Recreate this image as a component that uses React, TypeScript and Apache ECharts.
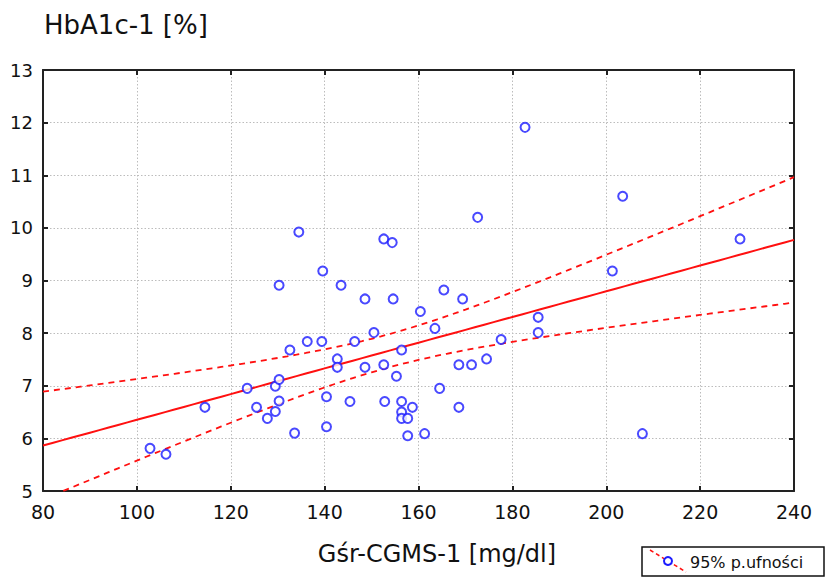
import React, { useEffect, useRef } from "react";
import * as echarts from "echarts";

// Gśr-CGMS-1 [mg/dl] (x) and HbA1c-1 [%] (y)
const cgms: number[] = [
  102.8, 106.2, 114.5, 123.5, 125.5, 127.8, 129.5, 129.5, 130.3, 130.3,
  130.3, 132.6, 133.6, 134.5, 136.3, 139.4, 139.6, 140.4, 140.4, 142.7,
  142.7, 143.5, 145.4, 146.4, 148.6, 148.6, 150.5, 152.6, 152.6, 152.8,
  154.4, 154.6, 155.3, 156.4, 156.4, 156.4, 156.4, 157.7, 157.7, 158.7,
  160.4, 161.3, 163.5, 164.5, 165.4, 168.6, 168.6, 169.4, 171.3, 172.6,
  174.5, 177.6, 182.7, 185.5, 185.5, 201.3, 203.5, 207.7, 228.5,
];
const hba1c: number[] = [
  5.81, 5.7, 6.59, 6.95, 6.59, 6.38, 6.51, 6.99, 6.71, 7.12,
  8.91, 7.68, 6.1, 9.92, 7.84, 7.84, 9.18, 6.79, 6.22, 7.51,
  7.35, 8.91, 6.7, 7.84, 8.65, 7.35, 8.01, 9.79, 7.4, 6.7,
  9.72, 8.65, 7.18, 7.68, 6.7, 6.5, 6.38, 6.38, 6.05, 6.59,
  8.41, 6.09, 8.09, 6.95, 8.82, 7.4, 6.59, 8.65, 7.4, 10.2,
  7.51, 7.88, 11.91, 8.3, 8.01, 9.18, 10.6, 6.09, 9.79,
];
const xTicks = [80, 100, 120, 140, 160, 180, 200, 220, 240];
const yTicks = [5, 6, 7, 8, 9, 10, 11, 12, 13];
const T_CRIT = 2.0025; // t(0.975, df=57)
const legendLabel = "95% p.ufności";
const xName = "Gśr-CGMS-1 [mg/dl]";
const yName = "HbA1c-1 [%]";

function fit() {
  const n = cgms.length;
  const mx = cgms.reduce((a, b) => a + b, 0) / n;
  const my = hba1c.reduce((a, b) => a + b, 0) / n;
  let sxx = 0;
  let sxy = 0;
  for (let i = 0; i < n; i++) {
    sxx += (cgms[i] - mx) ** 2;
    sxy += (cgms[i] - mx) * (hba1c[i] - my);
  }
  const b = sxy / sxx;
  const a = my - b * mx;
  let sse = 0;
  for (let i = 0; i < n; i++) sse += (hba1c[i] - a - b * cgms[i]) ** 2;
  const s = Math.sqrt(sse / (n - 2));
  return { n, mx, sxx, a, b, s };
}

export default function App() {
  const ref = useRef<HTMLDivElement>(null);
  useEffect(() => {
    if (!ref.current) return;
    const chart = echarts.init(ref.current, undefined, { renderer: "svg" });
    const { n, mx, sxx, a, b, s } = fit();
    const xMin = xTicks[0];
    const xMax = xTicks[xTicks.length - 1];
    const line: number[][] = [];
    const upper: number[][] = [];
    const lower: number[][] = [];
    for (let x = xMin; x <= xMax; x += 2) {
      const yh = a + b * x;
      const hw = T_CRIT * s * Math.sqrt(1 / n + ((x - mx) * (x - mx)) / sxx);
      line.push([x, yh]);
      upper.push([x, yh + hw]);
      lower.push([x, yh - hw]);
    }
    const font = "DejaVu Sans";
    const axisLine = { show: true, lineStyle: { color: "#222", width: 2 } };
    const tick = { show: true, inside: true, length: 5, lineStyle: { color: "#222", width: 2 } };
    const split = { show: true, lineStyle: { color: "#bcbcbc", width: 1, type: [1.5, 2] as any } };
    const option: any = {
      animation: false,
      backgroundColor: "#fff",
      grid: { left: 43, top: 70, width: 751, height: 421, containLabel: false, outerBoundsMode: "none" },
      xAxis: [
        {
          type: "value", min: xMin, max: xMax, interval: 20, position: "bottom",
          axisLine, axisTick: tick, splitLine: split,
          axisLabel: { color: "#111", fontSize: 19, fontFamily: font, margin: 11 },
        },
        {
          type: "value", min: xMin, max: xMax, interval: 20, position: "top",
          axisLine, axisTick: tick, splitLine: { show: false }, axisLabel: { show: false },
        },
      ],
      yAxis: [
        {
          type: "value", min: yTicks[0], max: yTicks[yTicks.length - 1], interval: 1, position: "left",
          axisLine, axisTick: tick, splitLine: split,
          axisLabel: { color: "#111", fontSize: 18, fontFamily: font, margin: 10 },
        },
        {
          type: "value", min: yTicks[0], max: yTicks[yTicks.length - 1], interval: 1, position: "right",
          axisLine, axisTick: tick, splitLine: { show: false }, axisLabel: { show: false },
        },
      ],
      series: [
        {
          type: "line", data: upper, showSymbol: false, symbol: "none", clip: true,
          lineStyle: { color: "#ff1010", width: 1.8, type: [6, 5] },
        },
        {
          type: "line", data: lower, showSymbol: false, symbol: "none", clip: true,
          lineStyle: { color: "#ff1010", width: 1.8, type: [6, 5] },
        },
        {
          type: "line", data: line, showSymbol: false, symbol: "none", clip: true,
          lineStyle: { color: "#ff1010", width: 2 },
        },
        {
          type: "scatter",
          data: cgms.map((x, i) => [x, hba1c[i]]),
          symbol: "emptyCircle",
          symbolSize: 9,
          itemStyle: { color: "#1c1cff", borderWidth: 2 },
          z: 5,
        },
      ],
      graphic: [
        {
          type: "text", left: 44, top: 12,
          style: { text: yName, fontSize: 26, fontFamily: font, fill: "#111" },
        },
        {
          type: "text", x: 437, y: 554,
          style: { text: xName, fontSize: 24, fontFamily: font, fill: "#111", textAlign: "center", textVerticalAlign: "middle" },
        },
        {
          type: "group",
          children: [
            { type: "rect", shape: { x: 642, y: 547, width: 182, height: 29 }, style: { fill: "#fff", stroke: "#111", lineWidth: 1.5 } },
            { type: "line", shape: { x1: 650, y1: 550, x2: 686, y2: 572 }, style: { stroke: "#ff1010", lineWidth: 1.5, lineDash: [4, 3] } },
            { type: "circle", shape: { cx: 668, cy: 561, r: 4 }, style: { fill: "#fff", stroke: "#1c1cff", lineWidth: 2 } },
            {
              type: "text", x: 690, y: 562,
              style: { text: legendLabel, fontSize: 16, fontFamily: font, fill: "#111", textVerticalAlign: "middle" },
            },
          ],
        },
      ],
    };
    chart.setOption(option);
    return () => chart.dispose();
  }, []);
  return (
    <div
      ref={ref}
      style={{ position: "fixed", left: 0, top: 0, width: 828, height: 579, background: "#fff" }}
    />
  );
}
